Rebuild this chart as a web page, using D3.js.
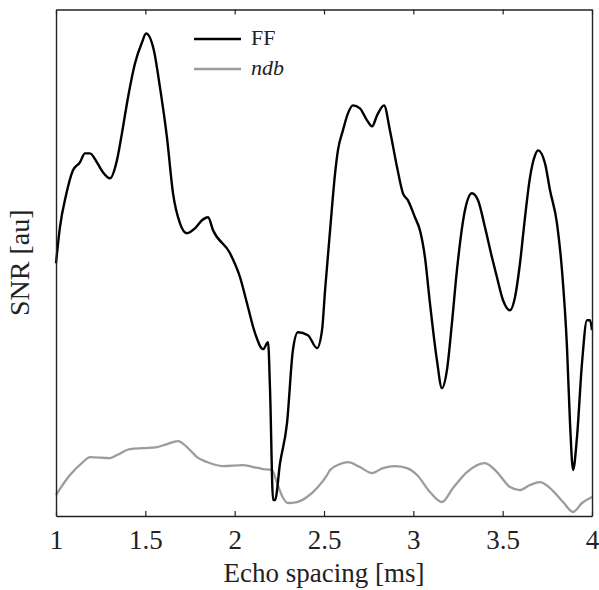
<!DOCTYPE html>
<html><head><meta charset="utf-8">
<script src="https://cdn.jsdelivr.net/npm/d3@7"></script>
<style>body{margin:0;background:#fff}svg{display:block}</style>
</head><body>
<script>
const ffX = [1.000,1.022,1.056,1.095,1.134,1.162,1.190,1.229,1.263,1.302,1.341,1.369,1.403,1.442,1.481,1.504,1.548,1.582,1.621,1.655,1.694,1.733,1.778,1.817,1.851,1.879,1.974,2.030,2.069,2.114,2.159,2.187,2.198,2.215,2.226,2.254,2.293,2.326,2.354,2.410,2.461,2.489,2.506,2.534,2.562,2.578,2.606,2.634,2.662,2.701,2.741,2.769,2.797,2.836,2.869,2.909,2.942,2.970,3.009,3.037,3.065,3.093,3.132,3.160,3.188,3.216,3.244,3.289,3.328,3.362,3.401,3.440,3.468,3.502,3.541,3.569,3.597,3.625,3.653,3.681,3.698,3.737,3.765,3.804,3.832,3.860,3.877,3.894,3.916,3.944,3.972,3.989,4.000];
const ffY = [253,289,321,346,354,363,363,354,344,338,356,383,419,453,474,483,466,429,379,323,293,283,288,296,299,286,263,239,213,183,167,174,126,16,16,53,93,166,184,181,168,186,226,286,343,366,386,403,411,408,396,390,401,411,386,349,323,316,299,286,259,213,156,128,146,193,246,306,323,316,289,259,239,216,206,219,253,299,339,361,366,353,326,293,246,169,93,46,79,153,196,196,186];
const ndbX = [1.000,1.078,1.151,1.190,1.302,1.341,1.414,1.487,1.565,1.621,1.683,1.733,1.789,1.845,1.935,2.047,2.103,2.159,2.209,2.237,2.271,2.298,2.349,2.405,2.461,2.517,2.534,2.590,2.634,2.701,2.769,2.830,2.897,2.965,3.021,3.093,3.160,3.222,3.300,3.401,3.468,3.541,3.597,3.653,3.709,3.765,3.838,3.894,3.944,4.000];
const ndbY = [21,41,54,59,58,61,67,68,69,72,75,69,59,54,50,51,49,47,46,33,18,13,14,19,28,41,46,52,54,49,43,48,50,48,41,24,14,28,44,53,44,29,26,31,34,28,14,4,13,19];
const xTicks = [1,1.5,2,2.5,3,3.5,4];
const xTickLabels = ["1","1.5","2","2.5","3","3.5","4"];
const seriesNames = ["FF","ndb"];
const seriesColors = ["#000000","#9c9c9c"];

const W=599,H=590;
const m={l:56,r:7,t:9.5,b:74};
const svg=d3.select("body").append("svg").attr("width",W).attr("height",H);
const x=d3.scaleLinear().domain([1,4]).range([m.l,W-m.r]);
const y=d3.scaleLinear().domain([0,507]).range([H-m.b,m.t]);
const font="'Liberation Serif','Times New Roman','DejaVu Serif',serif";

const line=d3.line().x(d=>x(d[0])).y(d=>y(d[1])).curve(d3.curveMonotoneX);
const ffData=ffX.map((v,i)=>[v,ffY[i]]);
const ndbData=ndbX.map((v,i)=>[v,ndbY[i]]);

const g=svg.append("g");
g.append("path").datum(ndbData).attr("d",line).attr("fill","none").attr("stroke",seriesColors[1]).attr("stroke-width",2.3).attr("stroke-linejoin","round");
g.append("path").datum(ffData).attr("d",line).attr("fill","none").attr("stroke",seriesColors[0]).attr("stroke-width",2.4).attr("stroke-linejoin","round");

// axes
const axBottom=svg.append("g").attr("transform",`translate(0,${H-m.b})`)
  .call(d3.axisBottom(x).tickValues(xTicks).tickFormat((d,i)=>xTickLabels[i]).tickSizeInner(-5).tickSizeOuter(0).tickPadding(14));
const axTop=svg.append("g").attr("transform",`translate(0,${m.t})`)
  .call(d3.axisTop(x).tickValues(xTicks).tickFormat("").tickSizeInner(-5).tickSizeOuter(0));
const axLeft=svg.append("g").attr("transform",`translate(${m.l},0)`).call(d3.axisLeft(y).tickValues([]).tickSizeOuter(0));
const axRight=svg.append("g").attr("transform",`translate(${W-m.r},0)`).call(d3.axisRight(y).tickValues([]).tickSizeOuter(0));
svg.selectAll(".domain").attr("stroke","#222").attr("stroke-width",1.4);
svg.selectAll(".tick line").attr("stroke","#222").attr("stroke-width",1.2);
axBottom.selectAll("text").attr("font-family",font).attr("font-size",27).attr("fill","#222");

svg.append("text").attr("x",(m.l+W-m.r)/2).attr("y",582).attr("text-anchor","middle")
  .attr("font-family",font).attr("font-size",27).attr("fill","#222").text("Echo spacing [ms]");
svg.append("text").attr("transform",`translate(29,${(m.t+H-m.b)/2}) rotate(-90)`).attr("text-anchor","middle")
  .attr("font-family",font).attr("font-size",28).attr("fill","#222").text("SNR [au]");

// legend
const leg=svg.append("g");
seriesNames.forEach((n,i)=>{
  const yy=39+i*30;
  leg.append("line").attr("x1",194).attr("x2",241).attr("y1",yy).attr("y2",yy).attr("stroke",seriesColors[i]).attr("stroke-width",2.6);
  leg.append("text").attr("x",251).attr("y",yy+6).attr("font-family",font).attr("font-size",22)
    .attr("font-style",i===1?"italic":"normal").attr("fill","#222").text(n);
});
</script>
</body></html>
